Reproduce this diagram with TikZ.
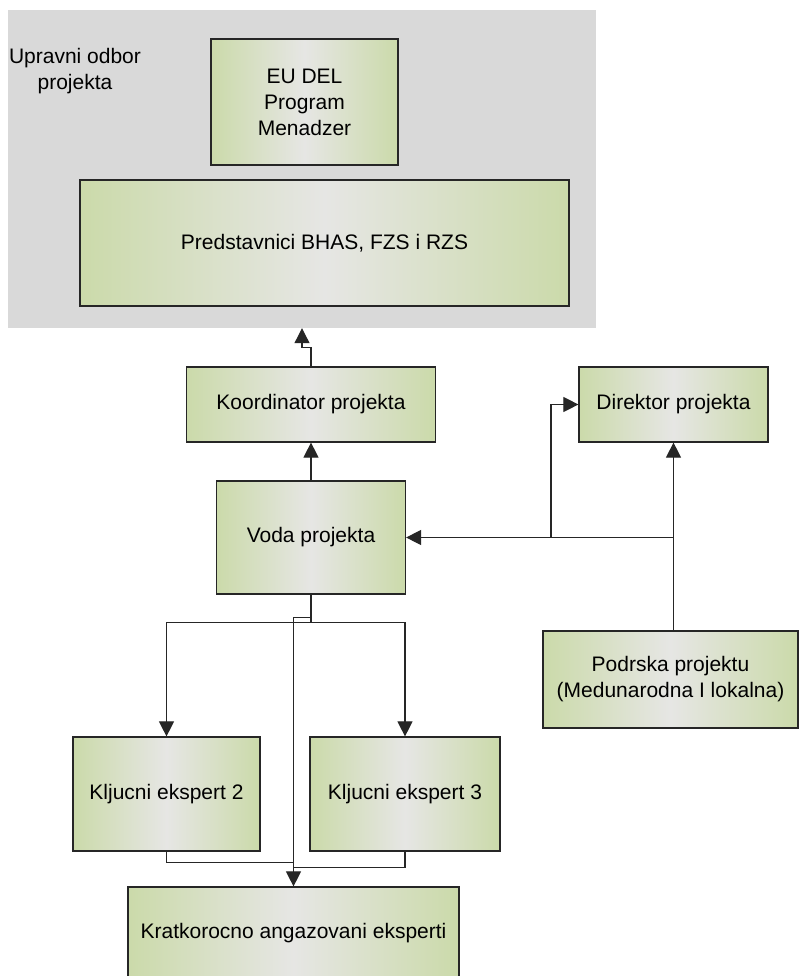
\documentclass[tikz,border=0pt]{standalone}
\usepackage{fontspec}
\setmainfont{Liberation Sans}
\usetikzlibrary{calc}
\usetikzlibrary{arrows.meta}
\definecolor{zelena}{RGB}{203,218,170}
\definecolor{sredina}{RGB}{230,230,228}
\definecolor{pozadina}{RGB}{217,217,217}
\tikzset{
	kutija/.style={draw=black!85, line width=1.2pt, left color=zelena, right color=zelena, middle color=sredina, align=center, inner sep=0pt},
	veza/.style={draw=black!85, line width=1.1pt},
	strelica/.style={veza, -{Triangle[length=15pt,width=15pt]}},
}

\begin{document}
\begin{tikzpicture}[x=1pt,y=-1pt,font=\fontsize{21}{26}\selectfont]
		\useasboundingbox (0,0) rectangle (800,976);
		\clip (0,0) rectangle (800,976);
		\fill[white] (0,0) rectangle (800,976);
		% upravni odbor
		\node[fill=pozadina, minimum width=588pt, minimum height=318pt, inner sep=0pt] (odbor) at (302,169) {};
		\node[align=center] (naziv) at (75,71) {Upravni odbor\\projekta};
		\node[kutija, minimum width=187pt, minimum height=126pt] (eudel) at (304.5,102) {EU DEL\\Program\\Menadzer};
		\node[kutija, minimum width=489pt, minimum height=126pt] (predst) at (324.5,243) {Predstavnici BHAS, FZS i RZS};
		% ostale kutije
		\node[kutija, minimum width=249pt, minimum height=75pt] (koord) at (311,404.5) {Koordinator projekta};
		\node[kutija, minimum width=189pt, minimum height=75pt] (direktor) at (673.5,404.5) {Direktor projekta};
		\node[kutija, minimum width=189pt, minimum height=113pt] (voda) at (311,537.5) {Voda projekta};
		\node[kutija, minimum width=255pt, minimum height=97pt] (podrska) at (670.5,679.5) {Podrska projektu\\(Medunarodna I lokalna)};
		\node[kutija, minimum width=187pt, minimum height=114pt] (klj2) at (166.5,794) {Kljucni ekspert 2};
		\node[kutija, minimum width=190pt, minimum height=114pt] (klj3) at (405,794) {Kljucni ekspert 3};
		\node[kutija, minimum width=331pt, minimum height=92pt] (kratko) at (293.5,933) {Kratkorocno angazovani eksperti};
		% veze
		\draw[strelica] (koord.north) -- ++(0,-19) -| (odbor.south);
		\draw[strelica] (voda.north) -- (koord.south);
		\draw[strelica] (podrska.north -| direktor.south) -- (direktor.south);
		\draw[strelica] (direktor.south |- voda.east) -- (voda.east);
		\coordinate (razvod) at (551,537.5);
		\draw[strelica] (razvod) |- (direktor.west);
		\draw[veza] (voda.south) -- ++(0,28) coordinate (grana);
		\draw[strelica] (grana) -| (klj2.north);
		\draw[strelica] (grana) -| (klj3.north);
		\draw[strelica] (voda.south) -- ++(0,23) -| (kratko.north);
		\draw[veza] (klj2.south) |- ($(kratko.north)+(0,-24)$);
		\draw[veza] (klj3.south) |- ($(kratko.north)+(0,-19)$);
	\end{tikzpicture}
\end{document}
